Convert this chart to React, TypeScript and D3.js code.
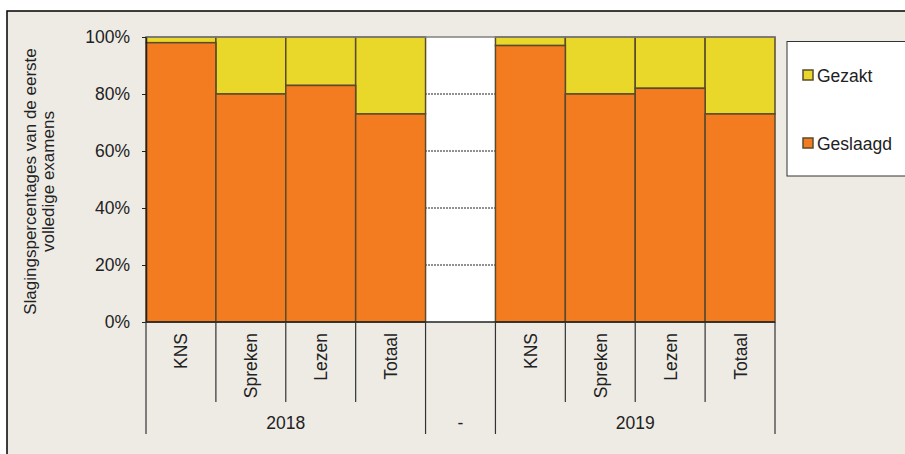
import React, { useEffect, useRef } from 'react'
import * as d3 from 'd3'

const categories = ['KNS', 'Spreken', 'Lezen', 'Totaal']
const years = ['2018', '-', '2019']
const geslaagd2018 = [98, 80, 83, 73]
const geslaagd2019 = [97, 80, 82, 73]
const yTicks = [0, 20, 40, 60, 80, 100]
const legendLabels = ['Gezakt', 'Geslaagd']

const ORANGE = '#F47C20'
const YELLOW = '#E9D729'
const EDGE = '#5A4B2C'
const FONT = 'Liberation Sans, Arial, sans-serif'
const FS = 17.5

const App = () => {
  const ref = useRef<SVGSVGElement>(null)

  useEffect(() => {
    const svg = d3.select(ref.current)
    svg.selectAll('*').remove()

    const width = 905
    const height = 454
    const left = 146
    const right = 775
    const top = 37
    const bottom = 322

    // slot keys: 4 for 2018, 1 empty gap, 4 for 2019
    const rows = [
      ...categories.map((c, i) => ({ key: '2018-' + c, cat: c, year: '2018', value: geslaagd2018[i] })),
      { key: 'gap', cat: '', year: '-', value: null as number | null },
      ...categories.map((c, i) => ({ key: '2019-' + c, cat: c, year: '2019', value: geslaagd2019[i] })),
    ]

    const x = d3.scaleBand().domain(rows.map(d => d.key)).range([left, right]).padding(0)
    const y = d3.scaleLinear().domain([0, 100]).range([bottom, top])

    // frame background
    svg.append('rect').attr('width', width).attr('height', height).attr('fill', '#ffffff')
    svg.append('rect')
      .attr('x', 7).attr('y', 11)
      .attr('width', width).attr('height', height)
      .attr('fill', '#EEEBE5')
      .attr('stroke', '#000').attr('stroke-width', 1.5)

    // plot area
    svg.append('rect')
      .attr('x', left).attr('y', top)
      .attr('width', right - left).attr('height', bottom - top)
      .attr('fill', '#ffffff')

    // gridlines (dashed)
    svg.append('g')
      .selectAll('line')
      .data(yTicks.filter(t => t > 0 && t < 100))
      .enter()
      .append('line')
      .attr('x1', left).attr('x2', right)
      .attr('y1', d => y(d)).attr('y2', d => y(d))
      .attr('stroke', '#222').attr('stroke-width', 1)
      .attr('stroke-dasharray', '2,1')

    const barRows = rows.filter(d => d.value !== null)
    const bars = svg.append('g')
    bars.selectAll('rect.gezakt')
      .data(barRows)
      .enter()
      .append('rect')
      .attr('class', 'gezakt')
      .attr('x', d => x(d.key)!)
      .attr('y', y(100))
      .attr('width', x.bandwidth())
      .attr('height', d => y(d.value!) - y(100))
      .attr('fill', YELLOW)
      .attr('stroke', EDGE).attr('stroke-width', 1.5)
    bars.selectAll('rect.geslaagd')
      .data(barRows)
      .enter()
      .append('rect')
      .attr('class', 'geslaagd')
      .attr('x', d => x(d.key)!)
      .attr('y', d => y(d.value!))
      .attr('width', x.bandwidth())
      .attr('height', d => y(0) - y(d.value!))
      .attr('fill', ORANGE)
      .attr('stroke', EDGE).attr('stroke-width', 1.5)

    // plot top border
    svg.append('line')
      .attr('x1', left).attr('x2', right).attr('y1', top).attr('y2', top)
      .attr('stroke', '#808080').attr('stroke-width', 1.5)

    // y axis
    const yAxis = d3.axisLeft(y).tickValues(yTicks).tickFormat(d => d + '%').tickSize(4).tickSizeOuter(0)
    const gy = svg.append('g').attr('transform', `translate(${left},0)`).call(yAxis)
    gy.select('.domain').attr('stroke', '#222').attr('stroke-width', 1.5)
    gy.selectAll('.tick line').attr('stroke', '#222')
    gy.selectAll('.tick text')
      .attr('x', -16)
      .attr('font-family', FONT).attr('font-size', FS).attr('fill', '#222')

    // x axis baseline
    svg.append('line')
      .attr('x1', left).attr('x2', right).attr('y1', bottom).attr('y2', bottom)
      .attr('stroke', '#222').attr('stroke-width', 1.5)

    // category separators
    const groupEdges = [0, 4, 5, 9]
    svg.append('g')
      .selectAll('line')
      .data(d3.range(rows.length + 1))
      .enter()
      .append('line')
      .attr('x1', i => left + i * x.bandwidth())
      .attr('x2', i => left + i * x.bandwidth())
      .attr('y1', bottom)
      .attr('y2', i => (groupEdges.includes(i) ? 434 : 402))
      .attr('stroke', '#333').attr('stroke-width', 1.2)

    // category labels
    svg.append('g')
      .selectAll('text')
      .data(barRows)
      .enter()
      .append('text')
      .attr('transform', d => `translate(${x(d.key)! + x.bandwidth() / 2 + 6.5},333) rotate(-90)`)
      .attr('text-anchor', 'end')
      .attr('font-family', FONT).attr('font-size', FS).attr('fill', '#222')
      .text(d => d.cat)

    // group labels
    const groupSpan = years.map(yr => {
      const keys = rows.filter(r => r.year === yr).map(r => r.key)
      const x0 = x(keys[0])!
      const x1 = x(keys[keys.length - 1])! + x.bandwidth()
      return { yr, cx: (x0 + x1) / 2 }
    })
    svg.append('g')
      .selectAll('text')
      .data(groupSpan)
      .enter()
      .append('text')
      .attr('x', d => d.cx)
      .attr('y', 429)
      .attr('text-anchor', 'middle')
      .attr('font-family', FONT).attr('font-size', FS).attr('fill', '#222')
      .text(d => d.yr)

    // y axis title
    const title = svg.append('text')
      .attr('transform', `translate(36,${(top + bottom) / 2 + 2}) rotate(-90)`)
      .attr('text-anchor', 'middle')
      .attr('font-family', FONT).attr('font-size', 17).attr('fill', '#222')
    title.append('tspan').attr('x', 0).attr('dy', 0).text('Slagingspercentages van de eerste')
    title.append('tspan').attr('x', 0).attr('dy', 18).text('volledige examens')

    // legend
    const lg = svg.append('g')
    lg.append('rect')
      .attr('x', 787).attr('y', 41.5)
      .attr('width', 140).attr('height', 134.5)
      .attr('fill', '#fff').attr('stroke', '#333').attr('stroke-width', 1)
    const legendColors = [YELLOW, ORANGE]
    const items = lg.selectAll('g.item')
      .data(legendLabels)
      .enter()
      .append('g')
      .attr('transform', (d, i) => `translate(803,${70 + i * 68})`)
    items.append('rect')
      .attr('width', 10).attr('height', 10)
      .attr('fill', (d, i) => legendColors[i])
      .attr('stroke', EDGE).attr('stroke-width', 1.5)
    items.append('text')
      .attr('x', 14).attr('y', 11.5)
      .attr('font-family', FONT).attr('font-size', FS).attr('fill', '#222')
      .text(d => d)
  }, [])

  return (
    <svg
      ref={ref}
      width={905}
      height={454}
      style={{ position: 'absolute', left: 0, top: 0, display: 'block' }}
    />
  )
}

export default App
